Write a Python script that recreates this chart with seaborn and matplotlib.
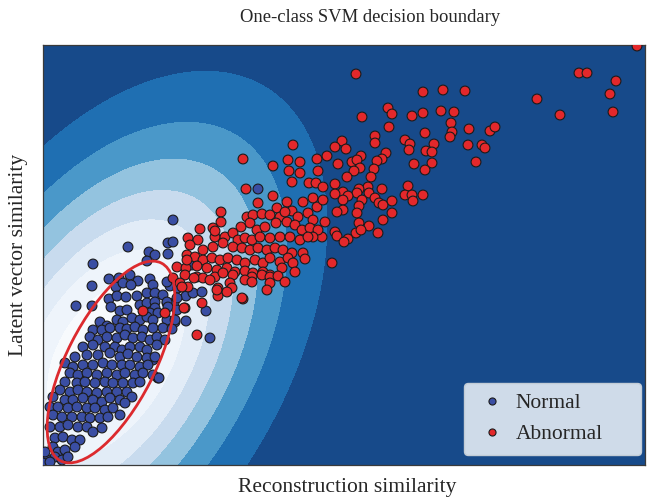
import numpy as np
import pandas as pd
import matplotlib
matplotlib.use("Agg")
import matplotlib.pyplot as plt
from matplotlib.patches import Ellipse
import seaborn as sns

# ---------------- data ----------------
normal_recon = [
    130, 85, 106, 112, 125, 125, 50, 104, 49, 33, 49, 127, 135, 143, 150, 159, 124, 131, 143, 132,
    167, 163, 134, 149, 130, 215, 115, 110, 110, 116,
    66, 76, 87, 95, 107, 73, 80, 88, 110, 124,
    66, 74, 83, 94, 104, 112, 120, 68, 77, 84,
    97, 104, 112, 124, 125, 112, 107, 115, 134, 57,
    64, 74, 80, 89, 97, 104, 110, 124, 132, 50,
    59, 67, 77, 84, 92, 100, 110, 120, 129, 47,
    55, 64, 74, 82, 90, 99, 107, 114, 122, 40,
    50, 62, 72, 79, 87, 97, 104, 114,
    32, 44, 55, 67, 77, 85, 94, 104, 112,
    22, 30, 40, 50, 60, 69, 79, 87, 97, 105,
    27, 35, 44, 54, 64, 74, 82, 92, 100,
    22, 34, 42, 52, 62, 70, 80, 90, 97,
    17, 27, 35, 44, 54, 64, 74, 84, 89,
    10, 22, 30, 40, 50, 59, 67, 77, 82,
    7, 15, 25, 34, 44, 52, 62, 70, 77,
    10, 19, 29, 39, 47, 57, 65,
    7, 17, 25, 35, 44, 50, 59,
    12, 20, 29, 37, 32, 10, 15, 22, 12, 19, 25, 4, 0, 7, 2,
]
normal_latent = [
    245, 218, 213, 210, 222, 211, 201, 204, 179, 159, 159, 179, 177, 169, 172, 173, 162, 162, 144, 143,
    127, 154, 167, 200, 223, 276, 87, 90, 105, 87,
    186, 187, 190, 184, 186, 178, 182, 180, 180, 183,
    166, 169, 168, 169, 172, 172, 170, 158, 154, 155,
    160, 162, 163, 163, 158, 157, 152, 152, 155, 143,
    139, 145, 143, 147, 145, 148, 145, 145, 145, 135,
    135, 137, 137, 136, 138, 135, 137, 137, 136, 128,
    125, 128, 127, 130, 127, 128, 125, 128, 125, 118,
    120, 118, 118, 115, 118, 118, 115, 120,
    108, 110, 110, 112, 108, 111, 108, 107, 108,
    102, 98, 100, 100, 102, 100, 100, 100, 98, 100,
    92, 90, 92, 90, 92, 90, 92, 90, 92,
    83, 82, 83, 82, 83, 82, 82, 82, 83,
    75, 73, 75, 73, 72, 73, 73, 73, 68,
    68, 65, 65, 67, 65, 63, 67, 65, 62,
    58, 58, 57, 58, 57, 57, 55, 57, 50,
    50, 48, 48, 48, 47, 47, 48,
    38, 38, 40, 38, 38, 33, 37,
    27, 28, 25, 25, 18, 18, 13, 15, 8, 5, 8, 5, 2, 3, 13,
]

abnormal_recon = [
    594, 536, 544, 573, 567, 570, 494, 517, 313, 380, 400, 422, 319, 345, 349, 369, 380, 398, 411, 346,
    408, 409, 407, 426, 447, 452, 382, 332, 332, 362, 367, 366, 391, 383, 389, 425, 439, 442, 299, 292,
    303, 318, 343, 339, 334, 295, 309, 314, 371, 389, 433, 382, 317, 311, 331, 328, 365, 362, 369, 370,
    380, 339, 325, 316, 292, 304, 300, 314, 326, 332, 292, 305, 319, 316, 336, 340, 349, 300, 300, 294,
    349, 340, 314, 316, 326, 313, 318, 335, 292, 294, 305, 301,
    250, 200, 230, 245, 257, 246, 257, 274, 284, 275, 249, 266, 273, 280, 203, 215, 230, 234, 244, 260,
    270, 274, 280, 249, 255, 265, 270, 282, 279, 178, 178, 204, 210, 219, 227, 237, 242, 198, 207, 214,
    222, 233, 244, 252, 259, 267, 275, 270, 157, 170, 172, 182, 190, 195, 202, 209, 217, 227, 237, 247,
    257, 265, 145, 155, 147, 160, 170, 180, 190, 199, 207, 215, 224, 232, 240, 249, 260, 144, 152, 160,
    169, 177, 185, 194, 202, 212, 220, 227, 237, 245, 250, 262, 289, 134, 143, 154, 164, 174, 184, 192,
    202, 210, 220, 227, 239, 142, 154, 160, 172, 180, 190, 209, 219, 227, 235, 252, 130, 137, 145, 167,
    175, 187, 189, 202, 209, 227, 242, 175, 184, 224, 200, 159, 142, 154, 172, 144, 151, 139, 174, 199,
    122, 100, 141,
]
abnormal_latent = [
    419, 392, 392, 384, 371, 353, 366, 350, 391, 373, 375, 374, 348, 357, 351, 349, 352, 354, 353, 338,
    342, 333, 328, 336, 334, 338, 332, 329, 322, 325, 321, 315, 321, 314, 313, 320, 320, 317, 324, 318,
    316, 309, 312, 306, 304, 301, 303, 305, 301, 302, 303, 295, 297, 294, 296, 288, 279, 270, 270, 264,
    270, 276, 278, 276, 281, 288, 273, 272, 272, 267, 271, 269, 265, 259, 262, 260, 264, 265, 255, 253,
    252, 245, 252, 242, 239, 232, 235, 232, 233, 229, 226, 223,
    320, 306, 299, 305, 303, 294, 292, 306, 309, 294, 283, 282, 282, 278, 276, 262, 269, 257, 263, 263,
    267, 258, 265, 254, 248, 252, 245, 243, 228, 253, 243, 248, 250, 251, 250, 248, 253, 238, 242, 235,
    238, 242, 243, 240, 235, 237, 235, 228, 236, 237, 228, 228, 232, 225, 227, 225, 228, 227, 228, 228,
    225, 228, 227, 225, 220, 215, 218, 222, 218, 217, 215, 217, 215, 217, 215, 212, 212, 210, 208, 205,
    207, 205, 207, 205, 202, 205, 202, 207, 203, 207, 202, 206, 202, 198, 197, 199, 197, 195, 197, 193,
    194, 192, 193, 190, 197, 190, 188, 187, 188, 192, 190, 188, 190, 188, 189, 193, 187, 182, 178, 185,
    177, 182, 177, 185, 183, 182, 183, 169, 173, 175, 166, 162, 157, 130, 234, 205, 187, 178, 175, 167,
    152, 154, 157,
]

class_names = ["Normal", "Abnormal"]
title_text = "One-class SVM decision boundary"
x_label = "Reconstruction similarity"
y_label = "Latent vector similarity"

# ---------------- styling ----------------
FIELD_CENTER = (60.0, 110.0)
FIELD_AXES = (313.0, 180.0)   # semi-axes of the outermost contour
FIELD_ANGLE = 58.8
FIELD_LEVELS = [0.0, 0.135, 0.26, 0.385, 0.51, 0.635, 0.76, 0.885, 1.01]
FIELD_COLORS = ['#174a8a', '#1f6fb2', '#4a98c9', '#93c3df',
                '#c8dbee', '#e2ecf7', '#eef4fb', '#f7fafd']
ELLIPSE_CENTER = (68, 103)
ELLIPSE_SIZE = (222, 88)
ELLIPSE_ANGLE = 63

sns.set_style("white")
plt.rcParams['font.family'] = ['Liberation Serif', 'DejaVu Serif']

fig = plt.figure(figsize=(6.48, 4.98), dpi=100)
ax = fig.add_axes([43 / 648, 33 / 498, 602 / 648, 420 / 498])

XMAX, YMAX = 602, 420

# background decision-function contours
gx = np.linspace(0, XMAX, 500)
gy = np.linspace(0, YMAX, 360)
GX, GY = np.meshgrid(gx, gy)
th = np.deg2rad(FIELD_ANGLE)
dx = GX - FIELD_CENTER[0]
dy = GY - FIELD_CENTER[1]
u = dx * np.cos(th) + dy * np.sin(th)
v = -dx * np.sin(th) + dy * np.cos(th)
Q = (u / FIELD_AXES[0]) ** 2 + (v / FIELD_AXES[1]) ** 2
F = np.exp(-2.0 * Q)
ax.contourf(GX, GY, F, levels=FIELD_LEVELS, colors=FIELD_COLORS, zorder=0)

df = pd.DataFrame({
    "recon": normal_recon + abnormal_recon,
    "latent": normal_latent + abnormal_latent,
    "label": [class_names[0]] * len(normal_recon) + [class_names[1]] * len(abnormal_recon),
})
sns.scatterplot(data=df, x="recon", y="latent", hue="label",
                palette={class_names[0]: '#3a4ea3', class_names[1]: '#e3282b'},
                s=50, edgecolor='#1b1b1b', linewidth=0.8, ax=ax, zorder=3)

ax.add_patch(Ellipse(ELLIPSE_CENTER, ELLIPSE_SIZE[0], ELLIPSE_SIZE[1], angle=ELLIPSE_ANGLE,
                     fill=False, edgecolor='#dc2a2e', linewidth=2.0, zorder=4))

ax.set_xlim(0, XMAX)
ax.set_ylim(0, YMAX)
ax.set_xticks([])
ax.set_yticks([])
ax.set_xlabel("")
ax.set_ylabel("")
for sp in ax.spines.values():
    sp.set_color('#3a3a3a')
    sp.set_linewidth(0.9)

handles, labels = ax.get_legend_handles_labels()
leg = ax.legend(handles, labels, loc='lower left',
                bbox_to_anchor=(421 / 602, 10 / 420, 177 / 602, 73 / 420), mode='expand',
                fontsize=15.5, markerscale=0.72, frameon=True, fancybox=True,
                borderpad=0.5, labelspacing=0.5, handletextpad=0.3, handlelength=1.6,
                borderaxespad=0.0)
leg.get_frame().set_facecolor('#cfdbe9')
leg.get_frame().set_edgecolor('#c2ccd6')
leg.get_frame().set_alpha(1.0)
leg.set_zorder(6)

fig.text(370 / 648, 1 - 18 / 498, title_text, ha='center', va='center', fontsize=13.4)
fig.text(347 / 648, 1 - 487 / 498, x_label, ha='center', va='center', fontsize=15.5)
fig.text(19 / 648, 1 - 255 / 498, y_label, ha='center', va='center', rotation=90, fontsize=15.5)

fig.savefig("out.png", dpi=100)
